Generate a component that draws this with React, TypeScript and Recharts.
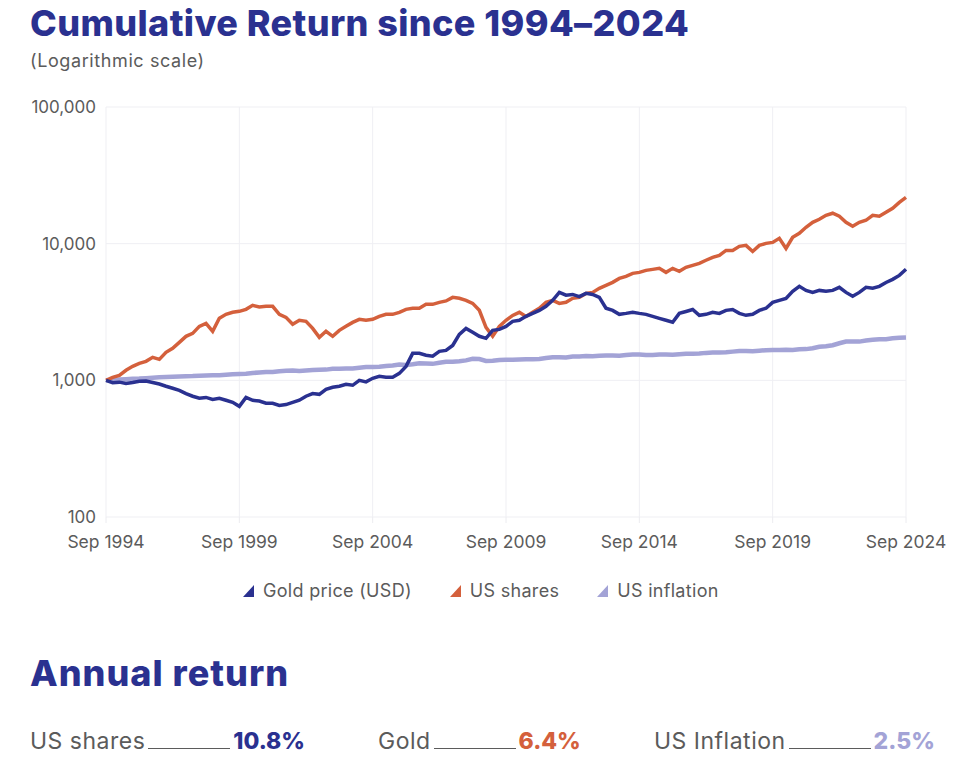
import React from "react";
import { LineChart, Line, XAxis, YAxis, CartesianGrid } from "recharts";

const TICK_LABELS = ["Sep 1994", "Sep 1999", "Sep 2004", "Sep 2009", "Sep 2014", "Sep 2019", "Sep 2024"];
const Y_TICKS = [100, 1000, 10000, 100000];
const QUARTER_MONTHS = ["Sep", "Dec", "Mar", "Jun"];

// quarterly values, Sep 1994 = 1,000
const GOLD = [
  1000, 960, 970, 950, 965, 985, 990, 965, 940, 905,
  875, 845, 800, 765, 740, 750, 725, 740, 715, 690,
  645, 750, 715, 705, 680, 680, 655, 665, 690, 715,
  765, 800, 790, 860, 890, 905, 935, 920, 1000, 975,
  1035, 1070, 1055, 1055, 1125, 1265, 1575, 1575, 1525, 1500,
  1630, 1655, 1800, 2170, 2400, 2245, 2100, 2030, 2320, 2360,
  2480, 2700, 2750, 2940, 3090, 3250, 3480, 3850, 4400, 4200,
  4250, 4100, 4330, 4250, 4050, 3370, 3250, 3040, 3090, 3150,
  3090, 3040, 2940, 2840, 2750, 2660, 3090, 3190, 3300, 2990,
  3040, 3150, 3090, 3250, 3300, 3090, 2990, 3040, 3250, 3370,
  3720, 3850, 3980, 4480, 4870, 4550, 4400, 4550, 4480, 4550,
  4790, 4400, 4120, 4400, 4790, 4720, 4870, 5200, 5480, 5860,
  6490,
];

const SHARES = [
  1000, 1050, 1088, 1184, 1266, 1331, 1377, 1473, 1424, 1603,
  1714, 1897, 2099, 2207, 2483, 2612, 2284, 2843, 3041, 3146,
  3199, 3308, 3537, 3437, 3480, 3480, 3041, 2890, 2569, 2750,
  2700, 2400, 2063, 2284, 2099, 2322, 2483, 2655, 2796, 2750,
  2796, 2937, 3041, 3041, 3146, 3308, 3364, 3364, 3597, 3597,
  3721, 3810, 4048, 3981, 3850, 3656, 3253, 2440, 2099, 2483,
  2750, 2986, 3146, 2937, 3146, 3364, 3721, 3850, 3656, 3721,
  3981, 4048, 4328, 4401, 4714, 4955, 5209, 5568, 5763, 6064,
  6167, 6378, 6486, 6596, 6167, 6596, 6273, 6710, 6939, 7177,
  7560, 7944, 8213, 8920, 8920, 9558, 9720, 8770, 9720, 10050,
  10220, 10950, 9222, 11140, 11920, 13180, 14330, 15080, 16140, 16700,
  15870, 14330, 13410, 14330, 14830, 16140, 15870, 16980, 18170, 20040,
  21790,
];

const INFLATION = [
  1000, 1006, 1013, 1020, 1025, 1030, 1038, 1046, 1052, 1057,
  1064, 1068, 1072, 1074, 1080, 1085, 1088, 1091, 1098, 1106,
  1112, 1118, 1132, 1142, 1150, 1153, 1166, 1176, 1178, 1170,
  1180, 1192, 1196, 1198, 1214, 1216, 1222, 1220, 1238, 1252,
  1252, 1256, 1274, 1285, 1305, 1296, 1312, 1332, 1330, 1320,
  1345, 1365, 1368, 1380, 1400, 1436, 1430, 1385, 1390, 1408,
  1412, 1415, 1422, 1424, 1428, 1432, 1458, 1475, 1478, 1472,
  1494, 1497, 1505, 1498, 1512, 1520, 1522, 1515, 1535, 1548,
  1545, 1530, 1532, 1548, 1545, 1538, 1552, 1566, 1568, 1570,
  1588, 1595, 1600, 1604, 1622, 1636, 1638, 1630, 1648, 1662,
  1665, 1668, 1675, 1668, 1688, 1692, 1715, 1760, 1775, 1808,
  1868, 1920, 1925, 1920, 1955, 1980, 1998, 1996, 2030, 2052,
  2060,
];

const SERIES_NAMES = ["Gold price (USD)", "US shares", "US inflation"];
const SERIES_KEYS = ["gold", "shares", "inflation"];
const SERIES_COLORS = ["#2a3190", "#d4603c", "#a3a3d6"];
const SERIES_WIDTHS = [3.5, 3.5, 4.5];

const ANNUAL_LABELS = ["US shares", "Gold", "US Inflation"];
const ANNUAL_VALUES = ["10.8%", "6.4%", "2.5%"];
const ANNUAL_COLORS = ["#2a3190", "#d4603c", "#a3a3d6"];
const ANNUAL_LEFT = [30, 378, 654];

const data = GOLD.map((g, i) => ({
  q: i,
  date: `${QUARTER_MONTHS[i % 4]} ${1994 + Math.floor((i + 2) / 4)}`,
  gold: g,
  shares: SHARES[i],
  inflation: INFLATION[i],
}));

const FONT = "Inter, 'Noto Sans', sans-serif";
const NAVY = "#2a3190";
const GREY = "#5b5b5b";

const Triangle = ({ color }: { color: string }) => (
  <svg width={11} height={12} style={{ marginRight: 9 }}>
    <polygon points="0,12 11,0 11,12" fill={color} />
  </svg>
);

export default function App() {
  return (
    <div style={{ position: "relative", width: 961, height: 764, fontFamily: FONT, background: "#fff" }}>
      <style>{"body{margin:0}"}</style>
      <div style={{ position: "absolute", left: 30, top: 1, fontSize: 36, fontWeight: 800, color: NAVY, letterSpacing: 0.4, whiteSpace: "nowrap" }}>
        Cumulative Return since 1994–2024
      </div>
      <div style={{ position: "absolute", left: 30, top: 50, fontSize: 18, color: GREY, letterSpacing: 0.6 }}>(Logarithmic scale)</div>

      <div style={{ position: "absolute", left: 0, top: 0 }}>
        <LineChart width={961} height={562} data={data} margin={{ top: 107, right: 55, left: 0, bottom: 0 }}>
          <CartesianGrid stroke="#efeff3" />
          <XAxis
            dataKey="q"
            type="number"
            domain={[0, 120]}
            ticks={TICK_LABELS.map((_, i) => i * 20)}
            tickFormatter={(v: number) => TICK_LABELS[v / 20]}
            axisLine={false}
            tickLine={{ stroke: "#ececf0" }}
            tickMargin={13}
            height={45}
            tick={{ fill: GREY, fontSize: 17.5, fontFamily: FONT }}
          />
          <YAxis
            scale="log"
            domain={[100, 100000]}
            ticks={Y_TICKS}
            allowDataOverflow
            width={106}
            axisLine={false}
            tickLine={false}
            tickMargin={4}
            tickFormatter={(v: number) => v.toLocaleString("en-US")}
            tick={{ fill: GREY, fontSize: 17, fontFamily: FONT }}
          />
          {SERIES_KEYS.slice()
            .reverse()
            .map((k) => {
              const i = SERIES_KEYS.indexOf(k);
              return (
                <Line
                  key={k}
                  dataKey={k}
                  name={SERIES_NAMES[i]}
                  type="linear"
                  stroke={SERIES_COLORS[i]}
                  strokeWidth={SERIES_WIDTHS[i]}
                  dot={false}
                  isAnimationActive={false}
                />
              );
            })}
        </LineChart>
      </div>

      <div style={{ position: "absolute", left: 243, top: 580, display: "flex" }}>
        {SERIES_NAMES.map((n, i) => (
          <div key={n} style={{ display: "flex", alignItems: "center", marginRight: i < 2 ? 38 : 0, fontSize: 18, color: GREY, letterSpacing: 0.3 }}>
            <Triangle color={SERIES_COLORS[i]} />
            {n}
          </div>
        ))}
      </div>

      <div style={{ position: "absolute", left: 30, top: 651, fontSize: 36, fontWeight: 800, color: NAVY, letterSpacing: 1 }}>
        Annual return
      </div>

      {ANNUAL_LABELS.map((l, i) => (
        <div key={l} style={{ position: "absolute", left: ANNUAL_LEFT[i], top: 727, display: "flex", alignItems: "baseline", fontSize: 23 }}>
          <span style={{ color: GREY, letterSpacing: 0.5 }}>{l}</span>
          <span style={{ display: "inline-block", width: 82, borderBottom: `1px solid ${GREY}`, margin: "0 3px" }} />
          <span style={{ color: ANNUAL_COLORS[i], fontWeight: 800 }}>{ANNUAL_VALUES[i]}</span>
        </div>
      ))}
    </div>
  );
}
